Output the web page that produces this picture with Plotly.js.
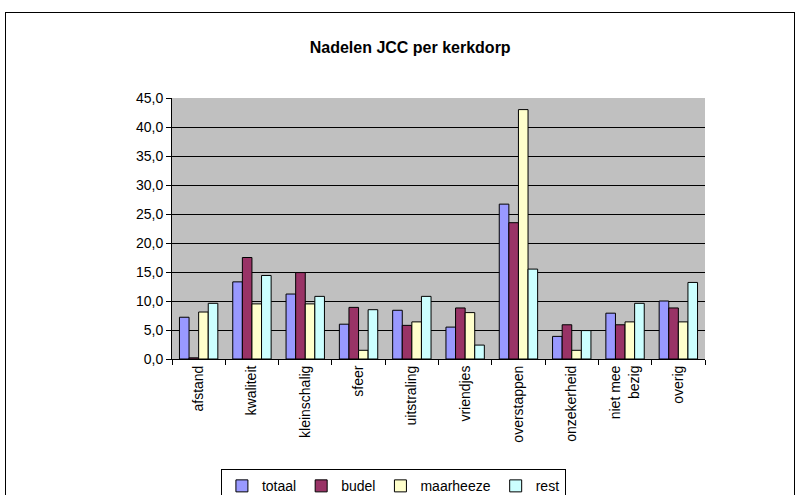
<!DOCTYPE html>
<html><head><meta charset="utf-8">
<script src="https://cdn.plot.ly/plotly-3.0.1.min.js"></script>
<style>body{margin:0;padding:0;background:#fff}#frame{position:absolute;left:5px;top:12px;width:788px;height:490px;border:1px solid #000;pointer-events:none}</style>
</head><body>
<div id="chart" style="width:798px;height:495px;position:absolute;left:0;top:0"></div>
<div id="frame"></div>
<script>
const categories = ["afstand","kwaliteit","kleinschalig","sfeer","uitstraling","vriendjes","overstappen","onzekerheid","niet mee<br>bezig","overig"];
const totaal     = [7.2, 13.3, 11.2, 6.0, 8.4, 5.5, 26.7, 3.9, 7.9, 10.0];
const budel      = [0.2, 17.5, 14.9, 8.9, 5.8, 8.8, 23.5, 5.9, 5.9, 8.8];
const maarheeze  = [8.1, 9.5, 9.5, 1.5, 6.4, 8.0, 43.0, 1.5, 6.4, 6.4];
const rest       = [9.6, 14.4, 10.8, 8.5, 10.8, 2.4, 15.5, 4.9, 9.6, 13.2];
const seriesNames = ["totaal","budel","maarheeze","rest"];
const colors = ["#9999ff","#993366","#ffffcc","#ccffff"];
const values = [totaal, budel, maarheeze, rest];
const data = values.map((v,i)=>({type:'bar',x:categories,y:v,name:seriesNames[i],
  marker:{color:colors[i],line:{color:'#000',width:1}}}));
const layout = {
  width:798,height:495,
  margin:{l:172,r:93,t:98,b:136},
  paper_bgcolor:'#fff',plot_bgcolor:'#c0c0c0',
  separators:', ',
  font:{family:'Liberation Sans, Arial, sans-serif',size:14,color:'#000'},
  title:{text:'<b>Nadelen JCC per kerkdorp</b>',x:0.514,xref:'container',y:0.915,yref:'container',font:{size:16}},
  bargap:0.28,bargroupgap:0,
  xaxis:{tickangle:-90,ticks:'outside',tickson:'boundaries',ticklen:5,tickcolor:'#000',
    showline:true,linecolor:'#000',linewidth:1,showgrid:false,automargin:false},
  yaxis:{range:[0,45],dtick:5,tick0:0,tickformat:'.1f',ticks:'outside',ticklen:5,tickcolor:'#000',
    showline:true,linecolor:'#000',gridcolor:'#000',gridwidth:1,zeroline:false,automargin:false},
  showlegend:true,
  legend:{orientation:'h',xref:'container',x:0.493,xanchor:'center',yref:'container',y:0.052,yanchor:'top',
    bordercolor:'#000',borderwidth:1,bgcolor:'#fff',font:{size:14},itemwidth:30,
    traceorder:'normal',tracegroupgap:0}
};
Plotly.newPlot('chart',data,layout,{displayModeBar:false,staticPlot:true});
</script>
</body></html>
